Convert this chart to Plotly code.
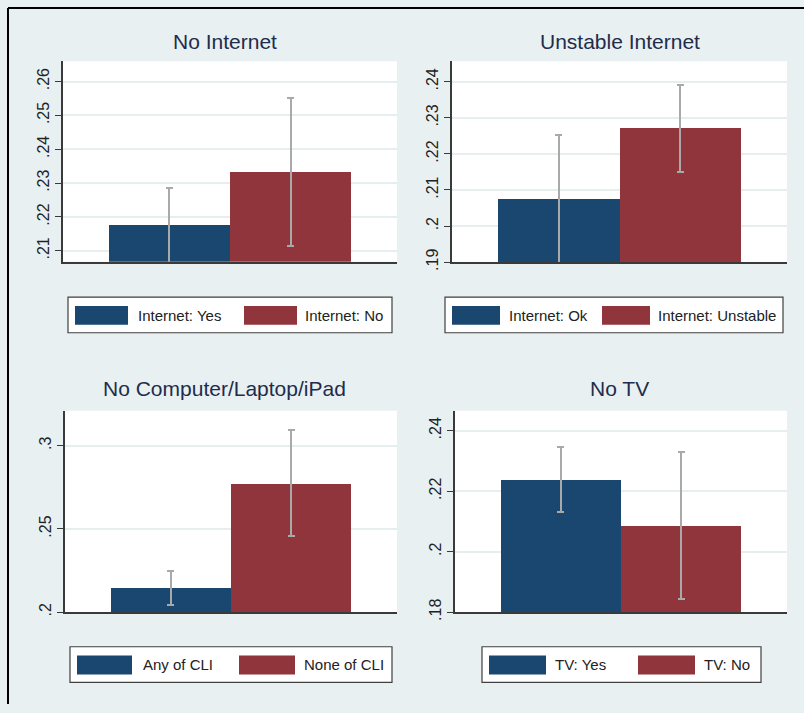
import plotly.graph_objects as go

# ---------------- data ----------------
titles = ["No Internet", "Unstable Internet", "No Computer/Laptop/iPad", "No TV"]

labels_1 = ["Internet: Yes", "Internet: No"]
means_1 = [0.2175, 0.2333]
ci_lo_1 = [0.2063, 0.2115]
ci_hi_1 = [0.2287, 0.2552]

labels_2 = ["Internet: Ok", "Internet: Unstable"]
means_2 = [0.2075, 0.2271]
ci_lo_2 = [0.1898, 0.2151]
ci_hi_2 = [0.2252, 0.2391]

labels_3 = ["Any of CLI", "None of CLI"]
means_3 = [0.2145, 0.2774]
ci_lo_3 = [0.2041, 0.2457]
ci_hi_3 = [0.2249, 0.3093]

labels_4 = ["TV: Yes", "TV: No"]
means_4 = [0.2239, 0.2087]
ci_lo_4 = [0.2131, 0.1844]
ci_hi_4 = [0.2347, 0.2330]

yticks_1 = [0.21, 0.22, 0.23, 0.24, 0.25, 0.26]
yticktext_1 = [".21", ".22", ".23", ".24", ".25", ".26"]
yticks_2 = [0.19, 0.20, 0.21, 0.22, 0.23, 0.24]
yticktext_2 = [".19", ".2", ".21", ".22", ".23", ".24"]
yticks_3 = [0.20, 0.25, 0.30]
yticktext_3 = [".2", ".25", ".3"]
yticks_4 = [0.18, 0.20, 0.22, 0.24]
yticktext_4 = [".18", ".2", ".22", ".24"]

# ---------------- style / layout ----------------
W, H = 804, 713
BG = "#E8F0F2"
NAVY = "#1A476F"
MAROON = "#90353B"
AXIS = "#3A3A3A"
GRID = "#E6EEF0"
TITLE_COLOR = "#1F2C4C"
FONT = "Liberation Sans, Arial, sans-serif"

panels = [
    dict(labels=labels_1, means=means_1, lo=ci_lo_1, hi=ci_hi_1, ticks=yticks_1, ticktext=yticktext_1,
         yrange=[0.2068, 0.266], px=(63, 397, 62, 265), title_xy=(225, 42),
         legend=dict(box=(68, 392, 301, 337), sw=[(75, 128), (244, 297)], sw_y=(310, 329), tx=[137, 304])),
    dict(labels=labels_2, means=means_2, lo=ci_lo_2, hi=ci_hi_2, ticks=yticks_2, ticktext=yticktext_2,
         yrange=[0.19, 0.2457], px=(452, 787, 62, 265.5), title_xy=(620, 42),
         legend=dict(box=(445, 783, 301, 337), sw=[(452, 500), (602, 650)], sw_y=(310, 329), tx=[508, 657])),
    dict(labels=labels_3, means=means_3, lo=ci_lo_3, hi=ci_hi_3, ticks=yticks_3, ticktext=yticktext_3,
         yrange=[0.2, 0.321], px=(65, 397, 416, 620), title_xy=(225, 393),
         legend=dict(box=(70, 392, 655, 691), sw=[(77, 132), (239, 295)], sw_y=(664, 683), tx=[142, 303])),
    dict(labels=labels_4, means=means_4, lo=ci_lo_4, hi=ci_hi_4, ticks=yticks_4, ticktext=yticktext_4,
         yrange=[0.18, 0.2466], px=(455, 787, 416, 620), title_xy=(619, 393),
         legend=dict(box=(482, 761, 655, 691), sw=[(489, 546), (638, 695)], sw_y=(664, 683), tx=[554, 703])),
]


def PX(x):
    return x / W


def PY(y):
    return 1 - y / H


fig = go.Figure()
shapes = []
annotations = []
layout_axes = {}

for i, p in enumerate(panels):
    s = "" if i == 0 else str(i + 1)
    colors = [NAVY, MAROON]
    fig.add_trace(go.Bar(
        x=p["labels"], y=p["means"], width=1,
        marker=dict(color=colors, line=dict(width=0)),
        error_y=dict(type="data", symmetric=False,
                     array=[h - m for h, m in zip(p["hi"], p["means"])],
                     arrayminus=[m - l for m, l in zip(p["means"], p["lo"])],
                     color="#A9A9A9", thickness=2, width=3.5),
        xaxis="x" + s, yaxis="y" + s, showlegend=False, hoverinfo="skip",
    ))
    x0, x1, y0, y1 = p["px"]
    layout_axes["xaxis" + s] = dict(
        domain=[PX(x0), PX(x1)], range=[-0.88, 1.88], anchor="y" + s,
        showline=True, linecolor=AXIS, linewidth=1.5, showticklabels=False,
        ticks="", showgrid=False, zeroline=False, fixedrange=True, type="category",
    )
    layout_axes["yaxis" + s] = dict(
        domain=[PY(y1), PY(y0)], range=p["yrange"], anchor="x" + s,
        tickmode="array", tickvals=p["ticks"], ticktext=p["ticktext"], tickangle=-90,
        ticks="outside", ticklen=6, tickwidth=1, tickcolor=AXIS,
        showline=True, linecolor=AXIS, linewidth=1.5,
        showgrid=True, gridcolor=GRID, gridwidth=1.5, zeroline=False,
        tickfont=dict(family=FONT, size=16, color="#222222"), fixedrange=True,
    )
    tx, ty = p["title_xy"]
    annotations.append(dict(
        text=titles[i], x=PX(tx), y=PY(ty), xref="paper", yref="paper",
        xanchor="center", yanchor="middle", showarrow=False,
        font=dict(family=FONT, size=21, color=TITLE_COLOR),
    ))
    lg = p["legend"]
    bx0, bx1, by0, by1 = lg["box"]
    shapes.append(dict(type="rect", xref="paper", yref="paper",
                       x0=PX(bx0), x1=PX(bx1), y0=PY(by1), y1=PY(by0),
                       line=dict(color="#404040", width=1.2), fillcolor="white"))
    sy0, sy1 = lg["sw_y"]
    for (sx0, sx1), c, lab, txx in zip(lg["sw"], colors, p["labels"], lg["tx"]):
        shapes.append(dict(type="rect", xref="paper", yref="paper",
                           x0=PX(sx0), x1=PX(sx1), y0=PY(sy1), y1=PY(sy0),
                           line=dict(width=0), fillcolor=c))
        annotations.append(dict(
            text=lab, x=PX(txx - 1), y=PY((sy0 + sy1) / 2), xref="paper", yref="paper",
            xanchor="left", yanchor="middle", showarrow=False,
            font=dict(family=FONT, size=15, color="#222222"),
        ))

# outer frame (top and left edges visible)
shapes.append(dict(type="line", xref="paper", yref="paper", x0=PX(8), x1=1, y0=PY(8), y1=PY(8),
                   line=dict(color="black", width=2)))
shapes.append(dict(type="line", xref="paper", yref="paper", x0=PX(8), x1=PX(8), y0=PY(8), y1=0,
                   line=dict(color="black", width=2)))

fig.update_layout(
    width=W, height=H, margin=dict(l=0, r=0, t=0, b=0),
    paper_bgcolor=BG, plot_bgcolor="white",
    bargap=0, showlegend=False,
    shapes=shapes, annotations=annotations,
    font=dict(family=FONT),
    **layout_axes,
)

page_css = (
    "var s=document.createElement('style');"
    "s.innerHTML='html,body{margin:0;padding:0;overflow:hidden;}"
    " .svg-container{display:block !important;}';"
    "document.head.appendChild(s);"
)
fig.write_html("out.html", config={"displayModeBar": False}, post_script=page_css)
